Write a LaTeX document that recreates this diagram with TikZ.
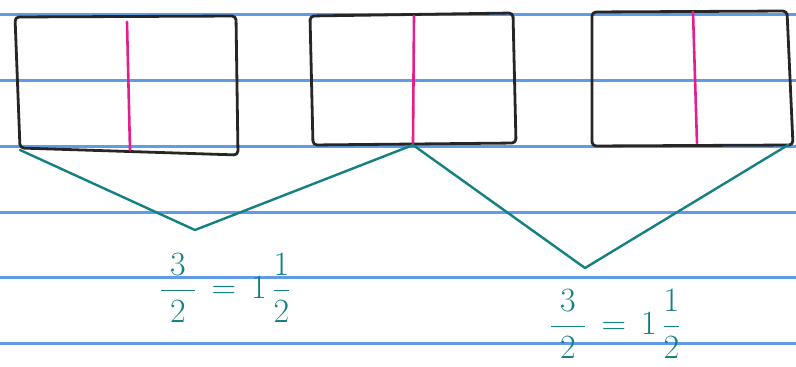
\documentclass[tikz,border=0pt]{standalone}
\usepackage{fix-cm}
\usepackage{amsfonts,amsmath,amssymb}
\usepackage{tikz}
\usetikzlibrary{arrows.meta}
\definecolor{ruleblue}{RGB}{95,155,230}
\definecolor{penteal}{RGB}{20,128,130}
\definecolor{penpink}{RGB}{228,30,140}
\tikzset{
  every picture/.style={line join=round, line cap=round},
  ruled/.style={ruleblue,line width=3pt},
  box/.style={draw=black!85,line width=2.8pt,rounded corners=4pt},
  half/.style={penpink,line width=2.6pt},
  brace/.style={penteal,line width=2.4pt},
  frac/.style={penteal,font=\fontsize{34}{40}\selectfont,inner sep=0pt},
}

\begin{document}
\begin{tikzpicture}[x=1pt,y=-1pt]
\useasboundingbox (0,0) rectangle (796,367);
% notebook lines
\foreach \y in {14,80,146,212,277,343}
  \draw[ruled](0,\y)--(796,\y);
% three wholes, each cut in halves
\draw[box](15,17)--(236,16)--(238,155)--(20,148)--cycle;
\draw[half](127,22)--(130,150);
\draw[box](310,16)--(513,13)--(516,143)--(313,145)--cycle;
\draw[half](414,16)--(413,143);
\draw[box](592,12)--(787,11)--(793,145)--(592,146)--cycle;
\draw[half](693,12)--(697,143);
% braces
\coordinate (a) at (20,150);
\coordinate (b) at (413,145);
\coordinate (c) at (788,145);
\coordinate (p) at (195,230);
\coordinate (q) at (585,268);
\draw[brace](a)--(p)--(b);
\draw[brace](b)--(q)--(c);
\node[frac] (s1) at (225,288) {$\dfrac{\;3\;}{2}\,=\,1\,\dfrac{1}{2}$};
\node[frac] (s2) at (615,324) {$\dfrac{\;3\;}{2}\,=\,1\,\dfrac{1}{2}$};
\end{tikzpicture}
\end{document}
